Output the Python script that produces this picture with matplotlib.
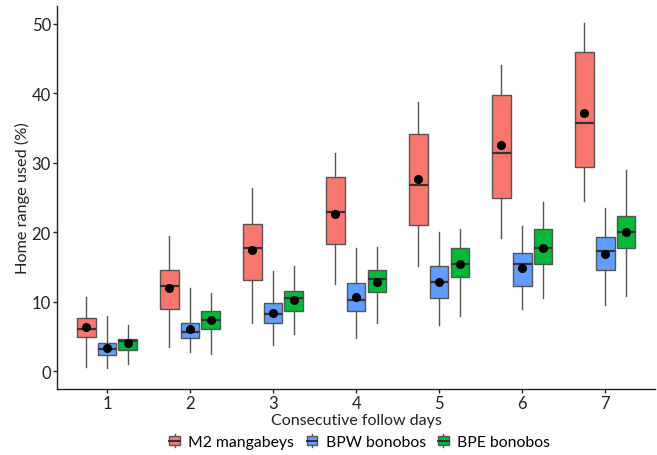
import matplotlib
matplotlib.use("Agg")
import matplotlib.pyplot as plt
from matplotlib.patches import Rectangle
from matplotlib.lines import Line2D
from matplotlib.legend_handler import HandlerBase

plt.rcParams['font.family'] = ['Lato', 'DejaVu Sans']

days = [1, 2, 3, 4, 5, 6, 7]
groups = ["M2 mangabeys", "BPW bonobos", "BPE bonobos"]
colors = ["#F8766D", "#619CFF", "#00BA38"]

# per group: whisker low, q1, median, q3, whisker high, mean
m2_whislo = [0.6, 3.5, 7.0, 12.5, 15.1, 19.2, 24.5]
m2_q1 = [4.9, 9.0, 13.1, 18.3, 21.0, 24.9, 29.4]
m2_med = [6.1, 12.2, 17.7, 22.9, 26.8, 31.4, 35.8]
m2_q3 = [7.7, 14.5, 21.2, 28.0, 34.2, 39.8, 45.9]
m2_whishi = [10.7, 19.5, 26.4, 31.4, 38.7, 44.1, 50.2]
m2_mean = [6.3, 12.0, 17.4, 22.7, 27.7, 32.5, 37.2]

bpw_whislo = [0.4, 2.7, 3.8, 4.8, 6.7, 8.9, 9.5]
bpw_q1 = [2.4, 4.8, 6.9, 8.7, 10.6, 12.2, 14.6]
bpw_med = [3.2, 5.6, 8.3, 10.3, 12.9, 15.4, 17.3]
bpw_q3 = [4.0, 7.0, 9.8, 12.7, 15.1, 17.0, 19.3]
bpw_whishi = [8.0, 12.0, 14.4, 17.8, 20.1, 20.9, 23.5]
bpw_mean = [3.3, 6.0, 8.4, 10.7, 12.9, 14.9, 16.8]

bpe_whislo = [1.1, 2.5, 5.3, 7.0, 8.0, 10.5, 10.8]
bpe_q1 = [3.1, 6.0, 8.7, 11.4, 13.5, 15.4, 17.7]
bpe_med = [4.3, 7.3, 10.5, 13.3, 15.4, 17.7, 20.0]
bpe_q3 = [4.7, 8.6, 11.5, 14.6, 17.7, 20.5, 22.4]
bpe_whishi = [6.6, 11.3, 15.2, 17.9, 20.5, 24.3, 29.0]
bpe_mean = [4.0, 7.3, 10.3, 12.9, 15.4, 17.7, 20.0]

data = [
    (m2_whislo, m2_q1, m2_med, m2_q3, m2_whishi, m2_mean),
    (bpw_whislo, bpw_q1, bpw_med, bpw_q3, bpw_whishi, bpw_mean),
    (bpe_whislo, bpe_q1, bpe_med, bpe_q3, bpe_whishi, bpe_mean),
]
offsets = [-0.25, 0.0, 0.25]

fig = plt.figure(figsize=(6.57, 4.56), dpi=100)
ax = fig.add_axes([0.087, 0.145, 0.910, 0.840])

for gi, (wl, q1, med, q3, wh, mn) in enumerate(data):
    stats = []
    for i in range(len(days)):
        stats.append(dict(whislo=wl[i], q1=q1[i], med=med[i], q3=q3[i],
                          whishi=wh[i], mean=mn[i], fliers=[]))
    pos = [d + offsets[gi] for d in days]
    ax.bxp(stats, positions=pos, widths=0.225, patch_artist=True,
           showmeans=True, showcaps=False,
           boxprops=dict(facecolor=colors[gi], edgecolor="#555555", linewidth=1.0),
           whiskerprops=dict(color="#555555", linewidth=1.0),
           medianprops=dict(color="#333333", linewidth=1.6),
           meanprops=dict(marker="o", markerfacecolor="black",
                          markeredgecolor="black", markersize=5.5),
           manage_ticks=False, zorder=2)

ax.set_xlim(0.4, 7.6)
ax.set_ylim(-2.55, 52.6)
ax.set_xticks(days)
ax.set_xticklabels([str(d) for d in days])
ax.set_yticks([0, 10, 20, 30, 40, 50])
for s in ["top", "right"]:
    ax.spines[s].set_visible(False)
for s in ["left", "bottom"]:
    ax.spines[s].set_color("#222222")
    ax.spines[s].set_linewidth(1.0)
ax.tick_params(axis="both", labelsize=12, color="#222222", length=3, width=1.0,
               labelcolor="#222222", pad=1.5)
ax.set_xlabel("Consecutive follow days", fontsize=11.5, color="#222222", labelpad=1)
ax.set_ylabel("Home range used (%)", fontsize=11.7, color="#222222", labelpad=1.5)


class BoxHandler(HandlerBase):
    def __init__(self, color):
        super().__init__()
        self.color = color

    def create_artists(self, legend, orig_handle, xdescent, ydescent, width,
                       height, fontsize, trans):
        cx = width / 2 - xdescent
        bw = width * 0.8
        bh = height * 0.7
        by = (height - bh) / 2 - ydescent
        vline = Line2D([cx, cx], [-ydescent, height - ydescent], color="#555555",
                       lw=1.0, transform=trans)
        rect = Rectangle((cx - bw / 2, by), bw, bh, facecolor=self.color,
                         edgecolor="#555555", lw=1.0, transform=trans)
        mline = Line2D([cx - bw / 2, cx + bw / 2], [height / 2 - ydescent] * 2,
                       color="#333333", lw=1.4, transform=trans)
        return [vline, rect, mline]


handles = [Rectangle((0, 0), 1, 1) for _ in groups]
fig.legend(handles, groups, loc="center",
           bbox_to_anchor=(359 / 657, 1 - 442.5 / 456),
           ncol=3, frameon=False, fontsize=11.3, handlelength=0.85, handleheight=0.9,
           handletextpad=0.45, columnspacing=0.7, borderpad=0,
           handler_map={h: BoxHandler(c) for h, c in zip(handles, colors)})

fig.savefig("out.png", dpi=100)
